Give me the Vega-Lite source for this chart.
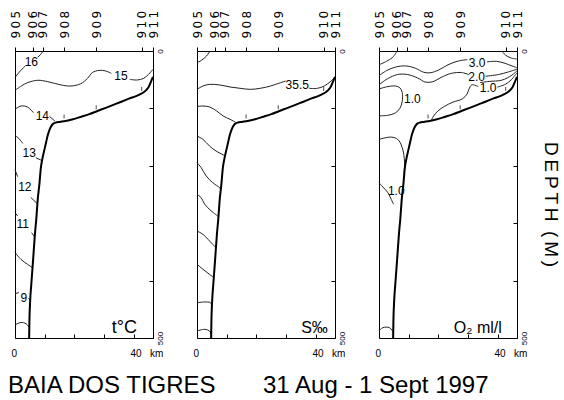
{
"$schema": "https://vega.github.io/schema/vega-lite/v6.json",
"background": "white",
"padding": {"left": 7, "top": 9, "right": 2, "bottom": 2},
"bounds": "flush",
"spacing": 44,
"config": {
 "view": {"stroke": "black", "strokeWidth": 1},
 "font": "Liberation Sans",
 "axis": {"grid": false, "domain": false, "labelColor": "black", "tickColor": "black", "titleColor": "black", "labelFont": "Liberation Sans", "titleFont": "Liberation Sans", "labelFlush": false}
},
"datasets": {
 "bathy": [
  {"km":4.75,"d":500},{"km":4.85,"d":470},{"km":5.1,"d":435},{"km":5.5,"d":405},{"km":5.9,"d":377},{"km":6.3,"d":348},{"km":6.7,"d":319},{"km":7.2,"d":290},{"km":7.6,"d":261},{"km":8.2,"d":232},{"km":8.7,"d":203},{"km":9.2,"d":188},{"km":9.8,"d":174},{"km":10.5,"d":158},{"km":11.1,"d":145},{"km":11.7,"d":136},{"km":12.3,"d":130},{"km":13,"d":126},{"km":13.8,"d":124.5},{"km":15,"d":123.5},{"km":17,"d":122},{"km":19.5,"d":119},{"km":22,"d":115},{"km":25,"d":110},{"km":27.5,"d":105},{"km":30.5,"d":99},{"km":33.5,"d":93},{"km":36,"d":88},{"km":38.5,"d":82.5},{"km":40.5,"d":79},{"km":42,"d":75.5},{"km":43.5,"d":71},{"km":44.4,"d":66.5},{"km":45,"d":62},{"km":45.5,"d":56},{"km":46,"d":50},{"km":46.4,"d":45}
 ],
 "marks": [{"km":16.5,"d":114},{"km":27.3,"d":98},{"km":42.6,"d":66}],
 "temp": [
  {"seg":"16a","km":9.35,"d":0},{"seg":"16a","km":8.8,"d":5},{"seg":"16a","km":7.6,"d":11},
  {"seg":"16b","km":3.5,"d":26},{"seg":"16b","km":1.9,"d":34},{"seg":"16b","km":0.4,"d":43.5},{"seg":"16b","km":0,"d":46},
  {"seg":"15a","km":0,"d":68.5},{"seg":"15a","km":2.1,"d":61},{"seg":"15a","km":4.3,"d":55},{"seg":"15a","km":7.7,"d":51},{"seg":"15a","km":11,"d":53.4},{"seg":"15a","km":15.5,"d":59.2},{"seg":"15a","km":18.8,"d":61},{"seg":"15a","km":22.1,"d":57},{"seg":"15a","km":24.4,"d":47.6},{"seg":"15a","km":26,"d":37.7},{"seg":"15a","km":28.3,"d":33.7},{"seg":"15a","km":30.5,"d":34.8},{"seg":"15a","km":32.4,"d":39},
  {"seg":"15b","km":38.6,"d":49.4},{"seg":"15b","km":41.1,"d":50.5},{"seg":"15b","km":43.3,"d":47.6},{"seg":"15b","km":44.9,"d":40.7},{"seg":"15b","km":46.4,"d":32},
  {"seg":"14a","km":0,"d":101.6},{"seg":"14a","km":2,"d":95.8},{"seg":"14a","km":4.2,"d":97.6},{"seg":"14a","km":6.2,"d":107.4},
  {"seg":"14b","km":11.6,"d":114},{"seg":"14b","km":13.4,"d":122},
  {"seg":"13a","km":0,"d":147},{"seg":"13a","km":1.4,"d":153},{"seg":"13a","km":2.6,"d":161},
  {"seg":"13b","km":7,"d":186},{"seg":"13b","km":9.1,"d":191},
  {"seg":"12a","km":0,"d":207},{"seg":"12a","km":0.9,"d":219},
  {"seg":"12b","km":5.3,"d":255},{"seg":"12b","km":7.5,"d":266},
  {"seg":"11a","km":0,"d":281.6},{"seg":"11a","km":0.9,"d":287.4},
  {"seg":"11b","km":5.6,"d":316.5},{"seg":"11b","km":6.6,"d":324},
  {"seg":"10","km":0,"d":351},{"seg":"10","km":2,"d":363},{"seg":"10","km":4.2,"d":371.6},{"seg":"10","km":5.95,"d":377.5},
  {"seg":"9a","km":0,"d":422.7},{"seg":"9a","km":1.3,"d":421},
  {"seg":"9b","km":4.5,"d":431},{"seg":"9b","km":5.1,"d":433},
  {"seg":"8","km":0,"d":477},{"seg":"8","km":2,"d":473},{"seg":"8","km":3.7,"d":475},{"seg":"8","km":4.85,"d":482}
 ],
 "tlab": [
  {"t":"16","km":5.5,"d":18.6},{"t":"15","km":35.6,"d":43.6},{"t":"14","km":9.2,"d":113},{"t":"13","km":4.8,"d":177},{"t":"12","km":3.3,"d":237},{"t":"11","km":2.6,"d":302},{"t":"9","km":3,"d":429.7}
 ],
 "sal": [
  {"seg":"a","km":0,"d":20.3},{"seg":"a","km":1.5,"d":16.3},{"seg":"a","km":3.2,"d":8.7},{"seg":"a","km":4.4,"d":0},
  {"seg":"35a","km":0,"d":66.8},{"seg":"35a","km":2,"d":61},{"seg":"35a","km":4.3,"d":58.1},{"seg":"35a","km":7.7,"d":59.2},{"seg":"35a","km":11.1,"d":62.7},{"seg":"35a","km":14.5,"d":65},{"seg":"35a","km":17.9,"d":66.8},{"seg":"35a","km":21.3,"d":65},{"seg":"35a","km":24.7,"d":61},{"seg":"35a","km":28.1,"d":55.2},{"seg":"35a","km":29.8,"d":52.3},
  {"seg":"35b","km":37.7,"d":65},{"seg":"35b","km":40.5,"d":65},{"seg":"35b","km":42.8,"d":61},{"seg":"35b","km":45.1,"d":52.3},{"seg":"35b","km":46.4,"d":45.3},
  {"seg":"1","km":0,"d":96.7},{"seg":"1","km":2,"d":95.8},{"seg":"1","km":4.3,"d":97.6},{"seg":"1","km":6.6,"d":104.5},{"seg":"1","km":8.8,"d":113.2},{"seg":"1","km":11.1,"d":119},{"seg":"1","km":12.9,"d":124},
  {"seg":"2","km":0,"d":148.1},{"seg":"2","km":2,"d":153.9},{"seg":"2","km":4.2,"d":165.5},{"seg":"2","km":6.4,"d":174.2},{"seg":"2","km":8.9,"d":181.2},{"seg":"2","km":9.4,"d":183},
  {"seg":"3","km":0,"d":194.5},{"seg":"3","km":1.4,"d":203.2},{"seg":"3","km":3.1,"d":217.8},{"seg":"3","km":5.3,"d":229.4},{"seg":"3","km":7.6,"d":238.1},{"seg":"3","km":8,"d":241},
  {"seg":"4","km":0,"d":249.7},{"seg":"4","km":1.4,"d":255.5},{"seg":"4","km":2.6,"d":267.1},{"seg":"4","km":4.8,"d":278.7},{"seg":"4","km":7.1,"d":288},
  {"seg":"5","km":0,"d":313.6},{"seg":"5","km":2,"d":319.4},{"seg":"5","km":3.7,"d":328.1},{"seg":"5","km":5.3,"d":336.8},{"seg":"5","km":6.4,"d":343},
  {"seg":"6","km":0,"d":371.6},{"seg":"6","km":2,"d":380.3},{"seg":"6","km":4.2,"d":389},{"seg":"6","km":5.7,"d":395},
  {"seg":"7","km":0,"d":438.4},{"seg":"7","km":2.6,"d":437.3},{"seg":"7","km":4.5,"d":438.4},{"seg":"7","km":5.1,"d":447},
  {"seg":"8","km":0,"d":487.8},{"seg":"8","km":2.6,"d":484.9},{"seg":"8","km":4.2,"d":487.8},{"seg":"8","km":4.8,"d":494}
 ],
 "slab": [{"t":"35.5","km":33.7,"d":59.2}],
 "oxy": [
  {"seg":"a","km":0,"d":24},{"seg":"a","km":2.5,"d":18},{"seg":"a","km":4.6,"d":11},{"seg":"a","km":6.1,"d":0},
  {"seg":"3a","km":0,"d":43},{"seg":"3a","km":2.6,"d":34},{"seg":"3a","km":5.6,"d":28},{"seg":"3a","km":9,"d":26},{"seg":"3a","km":12.2,"d":30},{"seg":"3a","km":15,"d":37},{"seg":"3a","km":17.2,"d":38},{"seg":"3a","km":20.1,"d":33},{"seg":"3a","km":23.2,"d":24},{"seg":"3a","km":26.6,"d":17.5},{"seg":"3a","km":29.7,"d":15},
  {"seg":"3b","km":36.3,"d":19},{"seg":"3b","km":39.5,"d":18},{"seg":"3b","km":42.4,"d":21.5},{"seg":"3b","km":44.7,"d":26},{"seg":"3b","km":46.4,"d":29},
  {"seg":"tr","km":41.3,"d":0},{"seg":"tr","km":42.5,"d":7},{"seg":"tr","km":44.3,"d":12},{"seg":"tr","km":46.4,"d":14},
  {"seg":"2a","km":0,"d":59},{"seg":"2a","km":2.8,"d":48.5},{"seg":"2a","km":6.2,"d":41},{"seg":"2a","km":9.6,"d":41},{"seg":"2a","km":13,"d":47},{"seg":"2a","km":15.5,"d":54},{"seg":"2a","km":18.1,"d":53.5},{"seg":"2a","km":20.9,"d":46},{"seg":"2a","km":24.3,"d":39},{"seg":"2a","km":27.7,"d":37.5},{"seg":"2a","km":30.2,"d":41},
  {"seg":"2b","km":35.8,"d":44},{"seg":"2b","km":40.2,"d":41},{"seg":"2b","km":43.6,"d":36.3},{"seg":"2b","km":46.4,"d":31.6},
  {"seg":"15","km":34,"d":55},{"seg":"15","km":37,"d":53},{"seg":"15","km":41.3,"d":50.8},{"seg":"15","km":44.7,"d":42},{"seg":"15","km":46.4,"d":34.5},
  {"seg":"1a","km":33.4,"d":62},{"seg":"1a","km":31.2,"d":59},{"seg":"1a","km":30.2,"d":67},{"seg":"1a","km":29.6,"d":75},{"seg":"1a","km":28,"d":83.5},{"seg":"1a","km":24.9,"d":89},{"seg":"1a","km":22,"d":96.5},{"seg":"1a","km":19.8,"d":104.5},{"seg":"1a","km":18.4,"d":113},{"seg":"1a","km":17.6,"d":121},
  {"seg":"1b","km":39.8,"d":63},{"seg":"1b","km":42.5,"d":58},{"seg":"1b","km":44.5,"d":50},{"seg":"1b","km":46.4,"d":38},
  {"seg":"blob","km":0,"d":66},{"seg":"blob","km":3,"d":62},{"seg":"blob","km":5.5,"d":61},{"seg":"blob","km":7,"d":64},{"seg":"blob","km":7.8,"d":72},{"seg":"blob","km":7.8,"d":88},{"seg":"blob","km":7,"d":100},{"seg":"blob","km":5.5,"d":108},{"seg":"blob","km":3,"d":112},{"seg":"blob","km":0,"d":113},
  {"seg":"m150","km":0,"d":154},{"seg":"m150","km":4.1,"d":150},{"seg":"m150","km":6.3,"d":154},{"seg":"m150","km":7.8,"d":168},{"seg":"m150","km":8.6,"d":194},{"seg":"m150","km":8.4,"d":215},
  {"seg":"low","km":0,"d":229.4},{"seg":"low","km":1.3,"d":236.9},{"seg":"low","km":3,"d":246.8},{"seg":"low","km":4.1,"d":258.4},{"seg":"low","km":4.9,"d":267},
  {"seg":"bot","km":0,"d":487.8},{"seg":"bot","km":1.3,"d":482},{"seg":"bot","km":3.5,"d":482},{"seg":"bot","km":4.9,"d":490.7}
 ],
 "olab": [{"t":"3.0","km":33,"d":21},{"t":"2.0","km":32.8,"d":44.5},{"t":"1.0","km":36.7,"d":65},{"t":"1.0","km":11.2,"d":84},{"t":"1.0","km":5.8,"d":244}]
},
"hconcat": [
 {
  "width": 138, "height": 287,
  "title": {"text": "BAIA DOS TIGRES", "orient": "bottom", "anchor": "start", "frame": "group", "fontSize": 24, "fontWeight": "normal", "color": "black", "font": "Liberation Sans", "offset": 16, "dx": -7},
  "layer": [
   {"data": {"name": "temp"}, "mark": {"type": "line", "stroke": "#222", "strokeWidth": 1, "interpolate": "catmull-rom"},
    "encoding": {
     "x": {"field": "km", "type": "quantitative", "scale": {"domain": [0, 46.4], "nice": false, "zero": false},
      "axis": {"orient": "bottom", "values": [0,10,20,30,40], "labelExpr": "datum.value == 0 ? '0' : datum.value == 40 ? '40\u00a0\u00a0\u00a0km' : ''", "title": null, "tickSize": -4, "labelPadding": 14, "labelAlign": "left", "labelOffset": -4, "labelFontSize": 10, "labelBaseline": "top"}},
     "y": {"field": "d", "type": "quantitative", "scale": {"domain": [0, 500], "reverse": true, "nice": false, "zero": false},
      "axis": {"orient": "right", "values": [0,50,100,150,200,250,300,350,400,450,500], "labelExpr": "datum.value == 0 || datum.value == 500 ? datum.label : ''", "title": null, "tickSize": -4, "labelPadding": 7, "labelAngle": 270, "labelFontSize": 8}},
     "detail": {"field": "seg", "type": "nominal"},
     "order": {"value": null}
    }},
   {"data": {"name": "bathy"}, "mark": {"type": "line", "stroke": "black", "strokeWidth": 2, "interpolate": "monotone"},
    "encoding": {
     "x": {"field": "km", "type": "quantitative",
      "axis": {"orient": "top", "values": [0,6,9.3,16.5,27.4,42.7,46.4], "labelExpr": "datum.value < 3 ? '9\u20090\u20095' : datum.value < 8 ? '9\u20090\u20096' : datum.value < 12 ? '9\u20090\u20097' : datum.value < 20 ? '9\u20090\u20098' : datum.value < 35 ? '9\u20090\u20099' : datum.value < 44 ? '9\u20091\u20090' : '9\u20091\u20091'", "title": null, "tickSize": 4, "labelPadding": 9, "labelAngle": 270, "labelFontSize": 12, "labelFont": "DejaVu Sans", "labelOverlap": false, "labelBound": false}},
     "y": {"field": "d", "type": "quantitative"},
     "order": {"value": null}
    }},
   {"data": {"name": "marks"}, "mark": {"type": "tick", "orient": "vertical", "size": 4, "thickness": 1, "color": "black"},
    "encoding": {"x": {"field": "km", "type": "quantitative", "axis": null}, "y": {"field": "d", "type": "quantitative"}}},
   {"data": {"name": "tlab"}, "mark": {"type": "text", "fontSize": 12, "color": "black"},
    "encoding": {"x": {"field": "km", "type": "quantitative", "axis": null}, "y": {"field": "d", "type": "quantitative"}, "text": {"field": "t", "type": "nominal"}}},
   {"data": {"values": [{"km": 41, "d": 491, "t": "t°C"}]}, "mark": {"type": "text", "align": "right", "baseline": "alphabetic", "fontSize": 18, "color": "black"},
    "encoding": {"x": {"field": "km", "type": "quantitative", "axis": null}, "y": {"field": "d", "type": "quantitative"}, "text": {"field": "t", "type": "nominal"}}}
  ]
 },
 {
  "width": 138, "height": 287,
  "title": {"text": "31 Aug - 1 Sept 1997", "orient": "bottom", "anchor": "start", "frame": "group", "fontSize": 24, "fontWeight": "normal", "color": "black", "font": "Liberation Sans", "offset": 16, "dx": 66},
  "layer": [
   {"data": {"name": "sal"}, "mark": {"type": "line", "stroke": "#222", "strokeWidth": 1, "interpolate": "catmull-rom"},
    "encoding": {
     "x": {"field": "km", "type": "quantitative", "scale": {"domain": [0, 46.4], "nice": false, "zero": false},
      "axis": {"orient": "bottom", "values": [0,10,20,30,40], "labelExpr": "datum.value == 0 ? '0' : datum.value == 40 ? '40\u00a0\u00a0\u00a0km' : ''", "title": null, "tickSize": -4, "labelPadding": 14, "labelAlign": "left", "labelOffset": -4, "labelFontSize": 10, "labelBaseline": "top"}},
     "y": {"field": "d", "type": "quantitative", "scale": {"domain": [0, 500], "reverse": true, "nice": false, "zero": false},
      "axis": {"orient": "right", "values": [0,50,100,150,200,250,300,350,400,450,500], "labelExpr": "datum.value == 0 || datum.value == 500 ? datum.label : ''", "title": null, "tickSize": -4, "labelPadding": 7, "labelAngle": 270, "labelFontSize": 8}},
     "detail": {"field": "seg", "type": "nominal"},
     "order": {"value": null}
    }},
   {"data": {"name": "bathy"}, "mark": {"type": "line", "stroke": "black", "strokeWidth": 2, "interpolate": "monotone"},
    "encoding": {
     "x": {"field": "km", "type": "quantitative",
      "axis": {"orient": "top", "values": [0,6,9.3,16.5,27.4,42.7,46.4], "labelExpr": "datum.value < 3 ? '9\u20090\u20095' : datum.value < 8 ? '9\u20090\u20096' : datum.value < 12 ? '9\u20090\u20097' : datum.value < 20 ? '9\u20090\u20098' : datum.value < 35 ? '9\u20090\u20099' : datum.value < 44 ? '9\u20091\u20090' : '9\u20091\u20091'", "title": null, "tickSize": 4, "labelPadding": 9, "labelAngle": 270, "labelFontSize": 12, "labelFont": "DejaVu Sans", "labelOverlap": false, "labelBound": false}},
     "y": {"field": "d", "type": "quantitative"},
     "order": {"value": null}
    }},
   {"data": {"name": "marks"}, "mark": {"type": "tick", "orient": "vertical", "size": 4, "thickness": 1, "color": "black"},
    "encoding": {"x": {"field": "km", "type": "quantitative", "axis": null}, "y": {"field": "d", "type": "quantitative"}}},
   {"data": {"name": "slab"}, "mark": {"type": "text", "fontSize": 12, "color": "black"},
    "encoding": {"x": {"field": "km", "type": "quantitative", "axis": null}, "y": {"field": "d", "type": "quantitative"}, "text": {"field": "t", "type": "nominal"}}},
   {"data": {"values": [{"km": 44, "d": 491, "t": "S‰"}]}, "mark": {"type": "text", "align": "right", "baseline": "alphabetic", "fontSize": 16, "color": "black"},
    "encoding": {"x": {"field": "km", "type": "quantitative", "axis": null}, "y": {"field": "d", "type": "quantitative"}, "text": {"field": "t", "type": "nominal"}}}
  ]
 },
 {
  "width": 138, "height": 287,
  "layer": [
   {"data": {"name": "oxy"}, "mark": {"type": "line", "stroke": "#222", "strokeWidth": 1, "interpolate": "catmull-rom"},
    "encoding": {
     "x": {"field": "km", "type": "quantitative", "scale": {"domain": [0, 46.4], "nice": false, "zero": false},
      "axis": {"orient": "bottom", "values": [0,10,20,30,40], "labelExpr": "datum.value == 0 ? '0' : datum.value == 40 ? '40\u00a0\u00a0\u00a0km' : ''", "title": null, "tickSize": -4, "labelPadding": 14, "labelAlign": "left", "labelOffset": -4, "labelFontSize": 10, "labelBaseline": "top"}},
     "y": {"field": "d", "type": "quantitative", "scale": {"domain": [0, 500], "reverse": true, "nice": false, "zero": false},
      "axis": {"orient": "right", "values": [0,50,100,150,200,250,300,350,400,450,500], "labelExpr": "datum.value == 0 || datum.value == 500 ? datum.label : ''", "title": "D\u2009E\u2009P\u2009T\u2009H\u2002(\u2009M\u2009)", "titleAngle": 90, "titleFontSize": 19, "titleFontWeight": "normal", "titlePadding": 12, "titleY": 153, "tickSize": -4, "labelPadding": 7, "labelAngle": 270, "labelFontSize": 8}},
     "detail": {"field": "seg", "type": "nominal"},
     "order": {"value": null}
    }},
   {"data": {"name": "bathy"}, "mark": {"type": "line", "stroke": "black", "strokeWidth": 2, "interpolate": "monotone"},
    "encoding": {
     "x": {"field": "km", "type": "quantitative",
      "axis": {"orient": "top", "values": [0,6,9.3,16.5,27.4,42.7,46.4], "labelExpr": "datum.value < 3 ? '9\u20090\u20095' : datum.value < 8 ? '9\u20090\u20096' : datum.value < 12 ? '9\u20090\u20097' : datum.value < 20 ? '9\u20090\u20098' : datum.value < 35 ? '9\u20090\u20099' : datum.value < 44 ? '9\u20091\u20090' : '9\u20091\u20091'", "title": null, "tickSize": 4, "labelPadding": 9, "labelAngle": 270, "labelFontSize": 12, "labelFont": "DejaVu Sans", "labelOverlap": false, "labelBound": false}},
     "y": {"field": "d", "type": "quantitative"},
     "order": {"value": null}
    }},
   {"data": {"name": "marks"}, "mark": {"type": "tick", "orient": "vertical", "size": 4, "thickness": 1, "color": "black"},
    "encoding": {"x": {"field": "km", "type": "quantitative", "axis": null}, "y": {"field": "d", "type": "quantitative"}}},
   {"data": {"name": "olab"}, "mark": {"type": "text", "fontSize": 12, "color": "black"},
    "encoding": {"x": {"field": "km", "type": "quantitative", "axis": null}, "y": {"field": "d", "type": "quantitative"}, "text": {"field": "t", "type": "nominal"}}},
   {"data": {"values": [{"km": 41.3, "d": 491, "t": "O₂ ml/l"}]}, "mark": {"type": "text", "align": "right", "baseline": "alphabetic", "fontSize": 16, "color": "black"},
    "encoding": {"x": {"field": "km", "type": "quantitative", "axis": null}, "y": {"field": "d", "type": "quantitative"}, "text": {"field": "t", "type": "nominal"}}}
  ]
 }
]
}
